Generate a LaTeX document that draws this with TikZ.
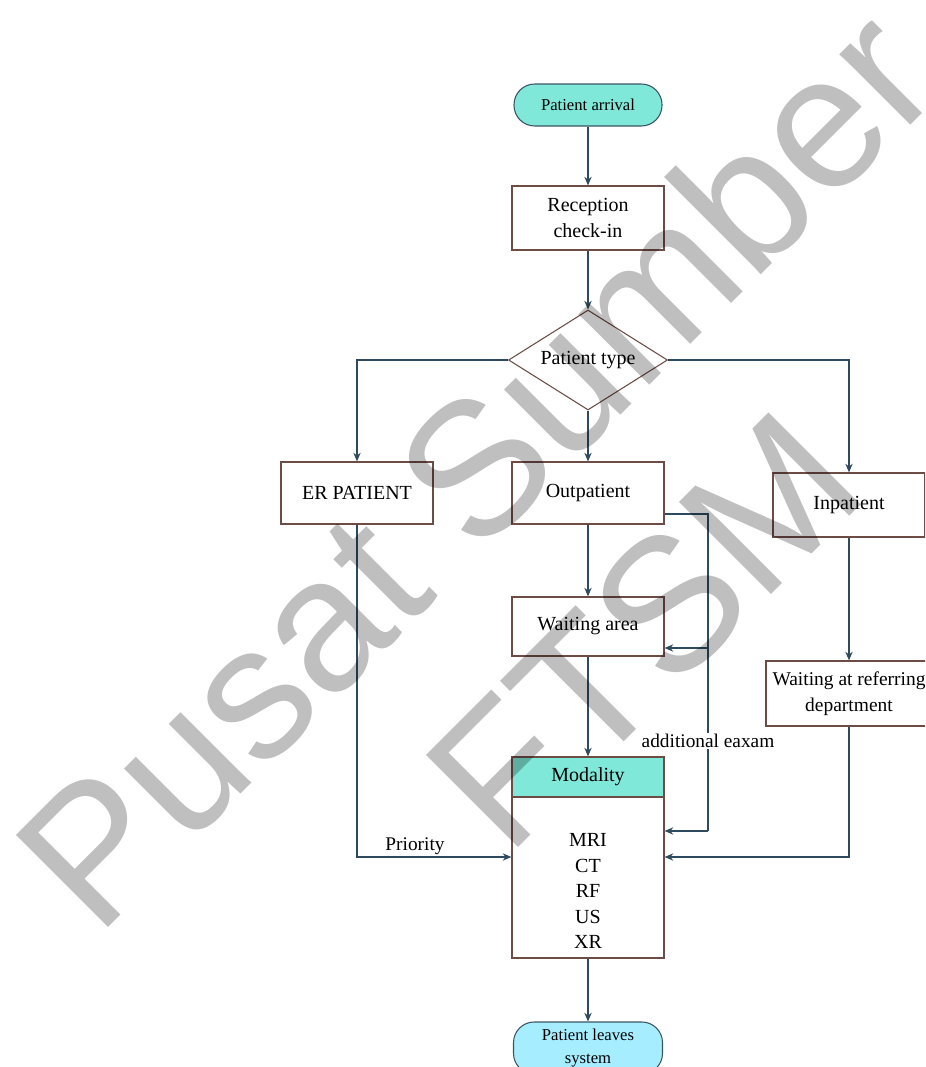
\documentclass[tikz,border=0pt]{standalone}
\usepackage{fontspec}
\setmainfont{Liberation Serif}
\newfontfamily\wmfont{Liberation Sans}
\usetikzlibrary{shapes.geometric,arrows.meta}
\definecolor{edgebrown}{HTML}{6E4C46}
\definecolor{wirecol}{HTML}{2E4A5E}
\definecolor{termedge}{HTML}{3A5566}
\definecolor{headteal}{HTML}{80E8D8}
\definecolor{leavecyan}{HTML}{A6EEFF}
\tikzset{
  box/.style={draw=edgebrown, line width=0.9pt, fill=white, align=center,
    inner sep=0pt, minimum width=114pt, minimum height=46.5pt,
    font=\fontsize{15}{19.5}\selectfont},
  term/.style={draw=termedge, line width=0.8pt, rounded corners=15.5pt,
    inner sep=0pt, align=center, minimum width=111pt, minimum height=31.5pt,
    font=\fontsize{12.5}{17}\selectfont},
  decision/.style={diamond, draw=edgebrown, line width=0.8pt, fill=white,
    inner sep=0pt, shape aspect=1.59, minimum width=119.25pt, minimum height=75pt,
    font=\fontsize{15}{17}\selectfont},
  wire/.style={draw=wirecol, line width=1pt},
  arr/.style={wire, -{Stealth[length=6.5pt,width=5.5pt]}},
  lbl/.style={font=\fontsize{14.5}{17}\selectfont, inner sep=1pt},
  wmark/.style={font=\wmfont\fontsize{142}{142}\selectfont, text=black,
    text opacity=0.25, rotate=45, inner sep=0pt}
}
\begin{document}
\begin{tikzpicture}[x=0.75pt,y=-0.75pt]
\useasboundingbox (0,0) rectangle (925,1067);
\clip (0,0) rectangle (925,1067);

% flow nodes
\node[term, fill=headteal] (arrival) at (588,105) {Patient arrival};
\node[box, minimum height=48pt] (reception) at (588,218) {Reception\\check-in};
\node[decision] (ptype) at (588,360) {Patient type};
\node[box] (er) at (357,493) {ER PATIENT};
\node[box] (outpatient) at (588,493) {Outpatient};
\node[box, minimum height=48pt] (inpatient) at (849,505) {Inpatient};
\node[box, minimum height=44.25pt] (waiting) at (588,626.5) {Waiting area};
\node[box, minimum width=124.5pt, minimum height=48.75pt,
  font=\fontsize{14.6}{19.5}\selectfont] (referring) at (849,693.5)
  {Waiting at referring\\department};
\node[box, fill=headteal, minimum height=30pt] (modality) at (588,777) {Modality};
\node[box, minimum height=120.75pt] (body) at (588,877.5) {};
\node[font=\fontsize{15}{19.1}\selectfont, align=center, inner sep=0pt] (modlist)
  at (588,891) {MRI\\CT\\RF\\US\\XR};
\node[term, fill=leavecyan, minimum width=111.75pt, minimum height=39pt] (leaves)
  at (588,1048) {Patient leaves\\system};

% junction points of the elbow connectors
\coordinate (tap) at (708,514);
\coordinate (tapw) at (708,648);
\coordinate (tapm) at (708,831);
\coordinate (prio) at (357,857);
\coordinate (refc) at (849,857);

% connectors
\draw[arr] (arrival) -- (reception);
\draw[arr] (reception) -- (ptype.north);
\draw[arr] (ptype.west) -| (er.north);
\draw[arr] (ptype.south) -- (outpatient.north);
\draw[arr] (ptype.east) -| (inpatient.north);
\draw[arr] (outpatient) -- (waiting);
\draw[arr] (inpatient) -- (referring);
\draw[arr] (waiting) -- (modality);
\draw[wire] (outpatient.east |- tap) -- (tap) -- (tapm);
\draw[arr] (tapw) -- (waiting.east |- tapw);
\draw[arr] (tapm) -- (body.east |- tapm);
\draw[arr] (er.south) -- (prio) -- (body.west |- prio);
\draw[arr] (referring.south) -- (refc) -- (body.east |- refc);
\draw[arr] (body) -- (leaves);

% connector labels
\node[lbl, fill=white] (addlbl) at (708,741) {additional eaxam};
\node[lbl] (priolbl) at (415,846) {Priority};

% watermark
\node[wmark] (wm1) at (474,466) {Pusat Sumber};
\node[wmark] (wm2) at (644,630) {FTSM};
\end{tikzpicture}
\end{document}
